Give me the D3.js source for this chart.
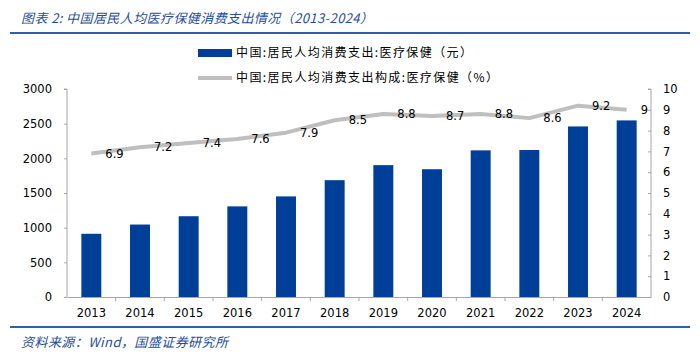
<!DOCTYPE html>
<html><head><meta charset="utf-8">
<script src="https://cdn.jsdelivr.net/npm/d3@7"></script>
<style>body{margin:0;background:#fff}svg{display:block}</style>
</head><body>
<script>
const years = ["2013","2014","2015","2016","2017","2018","2019","2020","2021","2022","2023","2024"];
const spending = [912,1045,1165,1307,1451,1685,1902,1843,2115,2120,2460,2547];
const share = [6.9,7.2,7.4,7.6,7.9,8.5,8.8,8.7,8.8,8.6,9.2,9.0];
const shareLabels = ["6.9","7.2","7.4","7.6","7.9","8.5","8.8","8.7","8.8","8.6","9.2","9"];
const leftTicks = [0,500,1000,1500,2000,2500,3000];
const rightTicks = [0,1,2,3,4,5,6,7,8,9,10];
const legendNames = ["中国:居民人均消费支出:医疗保健（元）","中国:居民人均消费支出构成:医疗保健（%）"];
const titleText = "图表 2:  中国居民人均医疗保健消费支出情况（2013-2024）";
const sourceText = "资料来源：Wind，国盛证券研究所";

const W=700,H=355;
const svg=d3.select("body").append("svg").attr("width",W).attr("height",H);
const blue="#1F4E9A", barC="#003F98", grey="#A6A6A6", lineC="#BFBFBF";
const sans="'DejaVu Sans','Noto Sans CJK SC',sans-serif";
const cjk="'Noto Sans CJK SC',sans-serif";

// title
svg.append("text").attr("x",21).attr("y",23).attr("fill",blue)
  .attr("font-family",cjk).attr("font-size",13).attr("font-style","italic")
  .attr("textLength",352).attr("lengthAdjust","spacing").text(titleText);
svg.append("line").attr("x1",10).attr("x2",690).attr("y1",33).attr("y2",33).attr("stroke","#2F5FA8").attr("stroke-width",2);
svg.append("line").attr("x1",10).attr("x2",690).attr("y1",327).attr("y2",327).attr("stroke","#2F5FA8").attr("stroke-width",2);
svg.append("text").attr("x",21).attr("y",347).attr("fill",blue)
  .attr("font-family",cjk).attr("font-size",13).attr("font-style","italic")
  .attr("textLength",207).attr("lengthAdjust","spacing").text(sourceText);

const x0=67,x1=651,yTop=89,yBot=297;
const x=d3.scaleBand().domain(years).range([x0,x1]).paddingInner(0.59).paddingOuter(0.295);
const xOuter=d3.scaleBand().domain(years).range([x0,x1]);
const yL=d3.scaleLinear().domain([0,3000]).range([yBot,yTop]);
const yR=d3.scaleLinear().domain([0,10]).range([yBot,yTop]);

// bars
svg.append("g").selectAll("rect").data(years).join("rect")
  .attr("x",d=>x(d)).attr("width",x.bandwidth())
  .attr("y",(d,i)=>yL(spending[i])).attr("height",(d,i)=>yBot-yL(spending[i]))
  .attr("fill",barC);

// left axis
const gL=svg.append("g").attr("transform",`translate(${x0},0)`)
  .call(d3.axisLeft(yL).tickValues(leftTicks).tickSize(3).tickPadding(12).tickFormat(d3.format("d")));
// right axis
const gR=svg.append("g").attr("transform",`translate(${x1},0)`)
  .call(d3.axisRight(yR).tickValues(rightTicks).tickSizeInner(-3).tickSizeOuter(0).tickPadding(12).tickFormat(d3.format("d")));
// bottom axis
const gB=svg.append("g").attr("transform",`translate(0,${yBot})`)
  .call(d3.axisBottom(xOuter).tickSize(0).tickPadding(12));
// category separator ticks
svg.append("g").selectAll("line").data(years.slice(1)).join("line")
  .attr("x1",d=>xOuter(d)).attr("x2",d=>xOuter(d)).attr("y1",yBot).attr("y2",yBot+4)
  .attr("stroke",grey);
[gL,gR,gB].forEach(g=>{
  g.selectAll("path").attr("stroke",grey);
  g.selectAll("line").attr("stroke",grey);
  g.selectAll("text").attr("font-family",sans).attr("font-size",11.5).attr("fill","#000");
});
gL.select("path").attr("d",`M-3,${yTop}H0V${yBot}`);
gR.select("path").attr("d",`M-3,${yTop}H0V${yBot}`);

// line
const cx=d=>xOuter(d)+xOuter.bandwidth()/2;
svg.append("path").datum(years)
  .attr("fill","none").attr("stroke",lineC).attr("stroke-width",4).attr("stroke-linejoin","round")
  .attr("d",d3.line().x(d=>cx(d)).y((d,i)=>yR(share[i])));
svg.append("g").selectAll("text").data(years).join("text")
  .attr("x",d=>cx(d)+14).attr("y",(d,i)=>yR(share[i])).attr("dy","0.35em")
  .attr("font-family",sans).attr("font-size",11.5).attr("fill","#000")
  .text((d,i)=>shareLabels[i]);

// legend
const lg=svg.append("g");
lg.append("rect").attr("x",198).attr("y",49).attr("width",34).attr("height",8).attr("fill",barC);
lg.append("line").attr("x1",198).attr("x2",232).attr("y1",78).attr("y2",78).attr("stroke",lineC).attr("stroke-width",4);
lg.selectAll("text").data(legendNames).join("text")
  .attr("x",236).attr("y",(d,i)=>53+i*25).attr("dy","0.35em")
  .attr("font-family",cjk).attr("font-size",12).attr("fill","#000")
  .attr("textLength",(d,i)=>i===0?236:262).attr("lengthAdjust","spacing")
  .text(d=>d);
</script>
</body></html>
